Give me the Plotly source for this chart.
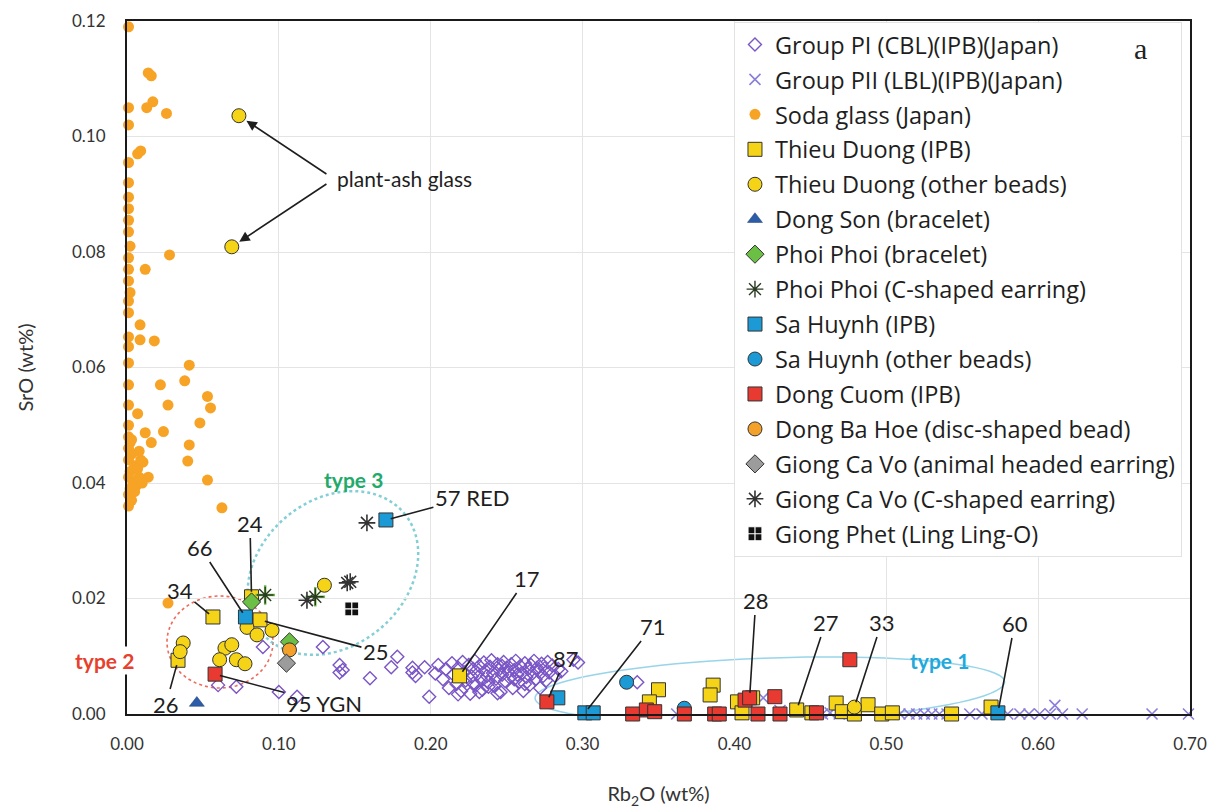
import numpy as np
import plotly.graph_objects as go

# ---------------- data ----------------
soda_x = [0.001,0.014,0.016,0.013,0.017,0.026,0.001,0.001,0.007,0.009,0.001,0.001,0.001,0.001,0.001,0.001,0.002,0.028,0.012,0.001,0.001,0.001,0.002,0.001,0.001,0.0086,0.001,0.0086,0.018,0.001,0.001,0.041,0.038,0.022,0.001,0.053,0.055,0.027,0.001,0.007,0.048,0.024,0.012,0.016,0.041,0.040,0.0105,0.014,0.053,0.0625,0.027,
          0.001,0.001,0.002,0.001,0.003,0.001,0.005,0.002,0.007,0.001,0.004,0.008,0.002,0.006,0.001,0.003,0.001,0.009,0.010,0.005,0.003,0.008]
soda_y = [0.119,0.111,0.1105,0.105,0.106,0.104,0.105,0.102,0.097,0.0975,0.0955,0.092,0.0895,0.0875,0.0855,0.0835,0.081,0.0795,0.077,0.079,0.077,0.075,0.073,0.0715,0.0695,0.0674,0.0653,0.0648,0.0646,0.0636,0.0608,0.0604,0.0577,0.057,0.057,0.055,0.053,0.0535,0.0535,0.052,0.0504,0.0489,0.0487,0.047,0.0466,0.0438,0.0436,0.041,0.0405,0.0357,0.0192,
          0.050,0.048,0.047,0.046,0.045,0.044,0.043,0.042,0.0425,0.041,0.040,0.041,0.039,0.0395,0.038,0.037,0.036,0.044,0.040,0.0385,0.0475,0.0455]

pi_x = [0.060,0.072,0.0895,0.100,0.112,0.129,0.140,0.142,0.140,0.160,0.174,0.178,0.188,0.188,0.190,0.196,0.199,0.203,0.205,
        0.208,0.210,0.212,0.214,0.215,0.217,0.218,0.220,0.221,0.222,0.223,0.225,0.226,0.227,0.228,0.229,0.230,0.231,0.232,0.233,0.234,0.235,0.236,0.237,0.238,0.239,0.240,0.241,0.242,0.243,0.244,0.245,0.246,0.247,0.248,0.249,0.250,0.251,0.252,0.253,0.254,0.255,0.256,0.257,0.258,0.259,0.260,0.261,0.262,0.263,0.264,0.265,0.266,0.267,0.268,0.269,0.270,0.271,0.272,0.273,0.274,0.275,0.276,0.277,0.278,0.280,0.282,0.284,0.286,0.294,0.297,0.336,
        0.238,0.244,0.232,0.218,0.228,0.262,0.255,0.247]
pi_y = [0.0050,0.0047,0.0116,0.0038,0.0030,0.0116,0.0085,0.0076,0.0072,0.0062,0.0081,0.0099,0.0080,0.0072,0.0066,0.0081,0.0030,0.0070,0.0085,
        0.0060,0.0078,0.0045,0.0088,0.0068,0.0052,0.0080,0.0040,0.0090,0.0072,0.0058,0.0085,0.0035,0.0065,0.0078,0.0092,0.0050,0.0070,0.0083,0.0060,0.0042,0.0089,0.0075,0.0066,0.0055,0.0082,0.0093,0.0071,0.0048,0.0061,0.0086,0.0077,0.0038,0.0068,0.0090,0.0057,0.0080,0.0073,0.0063,0.0086,0.0045,0.0076,0.0092,0.0068,0.0055,0.0083,0.0071,0.0040,0.0088,0.0064,0.0078,0.0050,0.0085,0.0070,0.0092,0.0060,0.0080,0.0074,0.0045,0.0087,0.0066,0.0079,0.0058,0.0090,0.0072,0.0084,0.0066,0.0078,0.0074,0.0094,0.0089,0.0055,
        0.0047,0.0036,0.0038,0.0034,0.0053,0.0052,0.0060,0.0083]

pii_x = [0.362,0.386,0.419,0.430,0.458,0.463,0.469,0.498,0.509,0.515,0.520,0.525,0.530,0.535,0.540,0.555,0.563,0.580,0.588,0.594,0.601,0.608,0.611,0.616,0.629,0.675,0.699]
pii_y = [0.0,0.0,0.0028,0.0006,0.0,0.0002,0.0,0.0,0.0,0.0,0.0,0.0,0.0,0.0,0.0,0.0,0.0,0.0,0.0,0.0,0.0,0.0,0.0015,0.0,0.0,0.0,0.0]

tdsq_x = [0.0566,0.082,0.0876,0.0336,0.219,0.350,0.344,0.386,0.384,0.402,0.405,0.412,0.441,0.451,0.467,0.471,0.479,0.488,0.497,0.504,0.543,0.569]
tdsq_y = [0.0168,0.0203,0.0163,0.0093,0.0066,0.0042,0.0021,0.0050,0.0033,0.0021,0.0002,0.0028,0.0007,0.0002,0.0019,0.0004,0.0,0.0016,0.0,0.0002,0.0,0.0012]

tdci_x = [0.0737,0.069,0.037,0.035,0.0645,0.069,0.061,0.072,0.0777,0.079,0.0856,0.0955,0.130,0.479]
tdci_y = [0.1036,0.0809,0.0123,0.0108,0.0114,0.0120,0.0094,0.0094,0.0087,0.0150,0.0137,0.0145,0.0223,0.0012]

dongson_x = [0.046]
dongson_y = [0.0019]

ppbr_x = [0.082,0.107]
ppbr_y = [0.0194,0.0125]

ppc_x = [0.091,0.124]
ppc_y = [0.0206,0.0203]

shipb_x = [0.1705,0.078,0.2837,0.3015,0.307,0.5735]
shipb_y = [0.0336,0.0168,0.0028,0.0002,0.0002,0.0002]

shoth_x = [0.329,0.367]
shoth_y = [0.0055,0.0010]

dc_x = [0.058,0.2765,0.333,0.342,0.3475,0.367,0.387,0.390,0.407,0.410,0.4266,0.4155,0.430,0.454,0.476]
dc_y = [0.0069,0.0021,0.0,0.0007,0.0004,0.0,0.0,0.0,0.0024,0.0028,0.0030,0.0,0.0,0.0002,0.0094]

dbh_x = [0.107]
dbh_y = [0.0111]

gcva_x = [0.105]
gcva_y = [0.0088]

gcvc_x = [0.158,0.145,0.147,0.1185]
gcvc_y = [0.0331,0.0227,0.0229,0.0197]

gp_x = [0.148]
gp_y = [0.0182]

x_ticks = [0.0,0.1,0.2,0.3,0.4,0.5,0.6,0.7]
y_ticks = [0.0,0.02,0.04,0.06,0.08,0.10,0.12]

# ---------------- figure ----------------
FONT = "Lato, 'Open Sans', sans-serif"
LEGFONT = "'Open Sans', Lato, sans-serif"
OUT = dict(color="#333333", width=1)

fig = go.Figure()

def add(name, x, y, marker, group, showlegend=True):
    fig.add_trace(go.Scatter(x=x, y=y, mode="markers", name=name, marker=marker,
                             legendgroup=group, showlegend=showlegend, cliponaxis=False,
                             hoverinfo="x+y+name"))

add("Group PI (CBL)(IPB)(Japan)", pi_x, pi_y,
    dict(symbol="diamond-open", size=10, color="#7a55c6", line=dict(width=1.4, color="#7a55c6")), "g1")
add("Group PII (LBL)(IPB)(Japan)", pii_x, pii_y,
    dict(symbol="x-thin-open", size=11, color="#8b80d8", line=dict(width=1.6, color="#8b80d8")), "g2")
add("Soda glass (Japan)", soda_x, soda_y,
    dict(symbol="circle", size=11, color="#f7a325", line=dict(width=0)), "g3")
add("Thieu Duong (IPB)", tdsq_x, tdsq_y,
    dict(symbol="square", size=14, color="#f5d316", line=OUT), "g4")
add("Thieu Duong (other beads)", tdci_x, tdci_y,
    dict(symbol="circle", size=14, color="#f5d316", line=OUT), "g5")
add("Dong Son (bracelet)", dongson_x, dongson_y,
    dict(symbol="triangle-up", size=13, color="#2d5ca8", line=dict(width=0.5, color="#1d3d70")), "g6")
add("Phoi Phoi (bracelet)", ppbr_x, ppbr_y,
    dict(symbol="diamond", size=14, color="#6bbf44", line=OUT), "g7")
add("Phoi Phoi (C-shaped earring)", ppc_x, ppc_y,
    dict(symbol="cross-thin-open", size=14, color="#6bbf44", line=dict(width=2.5, color="#6bbf44")), "g8", showlegend=False)
add("Phoi Phoi (C-shaped earring)", ppc_x, ppc_y,
    dict(symbol="asterisk-open", size=14, color="#2a3a20", line=dict(width=1.4, color="#2a3a20")), "g8")
add("Sa Huynh (IPB)", shipb_x, shipb_y,
    dict(symbol="square", size=14, color="#1c9ad6", line=OUT), "g9")
add("Sa Huynh (other beads)", shoth_x, shoth_y,
    dict(symbol="circle", size=14, color="#1c9ad6", line=OUT), "g10")
add("Dong Cuom (IPB)", dc_x, dc_y,
    dict(symbol="square", size=14, color="#e83a30", line=OUT), "g11")
add("Dong Ba Hoe (disc-shaped bead)", dbh_x, dbh_y,
    dict(symbol="circle", size=14, color="#f3a12a", line=OUT), "g12")
add("Giong Ca Vo (animal headed earring)", gcva_x, gcva_y,
    dict(symbol="diamond", size=14, color="#9c9c9c", line=OUT), "g13")
add("Giong Ca Vo (C-shaped earring)", gcvc_x, gcvc_y,
    dict(symbol="asterisk-open", size=14, color="#333333", line=dict(width=1.6, color="#333333")), "g14")
add("Giong Phet (Ling Ling-O)", gp_x, gp_y,
    dict(symbol="square-cross", size=14, color="#111111", line=dict(width=1.2, color="#ffffff")), "g15")

# ---------------- shapes (enclosing ellipses) ----------------
# page-pixel helpers (plot area: x 127..1190, y 21..714)
X0, XS = 127.0, 1519.0
Y0, YS = 714.0, 5775.0
def px2x(p): return (p - X0) / XS
def py2y(p): return (Y0 - p) / YS

def ellipse_path(cx, cy, a, b, ang_deg, n=90):
    t = np.linspace(0, 2*np.pi, n)
    ang = np.deg2rad(ang_deg)
    px = cx + a*np.cos(t)*np.cos(ang) - b*np.sin(t)*np.sin(ang)
    py = cy + a*np.cos(t)*np.sin(ang) + b*np.sin(t)*np.cos(ang)
    pts = [f"{px2x(u):.5f},{py2y(v):.6f}" for u, v in zip(px, py)]
    return "M " + " L ".join(pts) + " Z"

shapes = [
    dict(type="path", path=ellipse_path(220, 642, 53, 46, 0), xref="x", yref="y",
         line=dict(color="#ee6a5a", width=1.6, dash="dot"), layer="below"),
    dict(type="path", path=ellipse_path(333, 573, 93, 73, -40), xref="x", yref="y",
         line=dict(color="#66c4cc", width=2.5, dash="dot"), opacity=0.8, layer="below"),
    dict(type="path", path=ellipse_path(770, 690, 235, 32, -2), xref="x", yref="y",
         line=dict(color="#7fcbe6", width=1.5), opacity=0.8, layer="below"),
]

# ---------------- annotations ----------------
LBL = dict(size=22, color="#1e1e1e", family=FONT)
labels = [
    ("34", tdsq_x[0], tdsq_y[0], 180, 590),
    ("66", shipb_x[1], shipb_y[1], 200, 547),
    ("24", tdsq_x[1], tdsq_y[1], 250, 523),
    ("25", tdsq_x[2], tdsq_y[2], 376, 651),
    ("26", tdsq_x[3], tdsq_y[3], 166, 704),
    ("95 YGN", dc_x[0], dc_y[0], 324, 703),
    ("17", tdsq_x[4], tdsq_y[4], 527, 578),
    ("87", dc_x[1], dc_y[1], 566, 658),
    ("71", shipb_x[3], shipb_y[3], 653, 626),
    ("28", dc_x[9], dc_y[9], 756, 600),
    ("27", tdsq_x[12], tdsq_y[12], 826, 622),
    ("33", tdci_x[13], tdci_y[13], 882, 622),
    ("60", shipb_x[5], shipb_y[5], 1015, 623),
    ("57 RED", shipb_x[0], shipb_y[0], 472, 497),
]
annotations = []
for txt, x, y, tx, ty in labels:
    annotations.append(dict(text=txt, x=x, y=y, ax=px2x(tx), ay=py2y(ty), axref="x", ayref="y",
                            xref="x", yref="y", showarrow=True, arrowhead=0, arrowwidth=1.6,
                            arrowcolor="#1e1e1e", standoff=5, font=LBL))

# plant-ash glass arrows
annotations.append(dict(text="plant-ash glass", x=px2x(405), y=py2y(178), xref="x", yref="y",
                        showarrow=False, font=dict(size=21, color="#1e1e1e", family=FONT)))
for i in (0, 1):
    annotations.append(dict(text="", x=tdci_x[i], y=tdci_y[i], ax=px2x(328), ay=py2y(175 if i == 0 else 183),
                            axref="x", ayref="y", xref="x", yref="y", showarrow=True, arrowhead=2,
                            arrowsize=1.3, arrowwidth=1.6, arrowcolor="#1e1e1e", standoff=9))

PW, PH = 1063.0, 693.0
annotations += [
    dict(text="<b>type 3</b>", x=px2x(354), y=py2y(479), xref="x", yref="y", showarrow=False,
         font=dict(size=21, color="#22aa6a", family=FONT)),
    dict(text="<b>type 2</b>", x=(104 - X0) / PW, y=(Y0 - 660) / PH, xref="paper", yref="paper",
         xanchor="center", yanchor="middle", showarrow=False, bgcolor="white",
         font=dict(size=21, color="#e8402c", family=FONT)),
    dict(text="<b>type 1</b>", x=px2x(940), y=py2y(660), xref="x", yref="y", showarrow=False,
         font=dict(size=21, color="#21a8dc", family=FONT)),
    dict(text="a", x=px2x(1141), y=py2y(48), xref="x", yref="y", showarrow=False,
         font=dict(size=30, color="#222222", family="'Liberation Serif', 'DejaVu Serif', serif")),
]

# the page adds an 8 px body margin, so margins are reduced by 8 on left/top
fig.update_layout(
    width=1218, height=812,
    margin=dict(l=119, r=36, t=13, b=106),
    paper_bgcolor="white", plot_bgcolor="white",
    font=dict(family=FONT, size=17, color="#333333"),
    showlegend=True,
    legend=dict(x=0.571, y=0.999, xanchor="left", yanchor="top", bgcolor="rgba(255,255,255,1)",
                bordercolor="#e2e2e2", borderwidth=1, font=dict(size=23.5, color="#1e1e1e", family=LEGFONT),
                traceorder="grouped", tracegroupgap=1.4, itemsizing="trace"),
    shapes=shapes,
    annotations=annotations,
    xaxis=dict(range=[0, 0.70], tickvals=x_ticks, ticktext=[f"{v:.2f}" for v in x_ticks],
               showgrid=True, gridcolor="#e4e4e4", gridwidth=1, zeroline=False, automargin=False,
               showline=True, linecolor="#1a1a1a", linewidth=2, mirror=True,
               ticks="", ticklabelstandoff=14, tickfont=dict(size=17, color="#333333"),
               title=dict(text="Rb<sub>2</sub>O (wt%)", font=dict(size=20, color="#333333"), standoff=34)),
    yaxis=dict(range=[0, 0.12], tickvals=y_ticks, ticktext=[f"{v:.2f}" for v in y_ticks],
               showgrid=True, gridcolor="#e4e4e4", gridwidth=1, zeroline=False, automargin=False,
               showline=True, linecolor="#1a1a1a", linewidth=2, mirror=True,
               ticks="", ticklabelstandoff=16, tickfont=dict(size=17, color="#333333"),
               title=dict(text="SrO (wt%)", font=dict(size=20, color="#333333"), standoff=33)),
)

fig.write_html("out.html")
